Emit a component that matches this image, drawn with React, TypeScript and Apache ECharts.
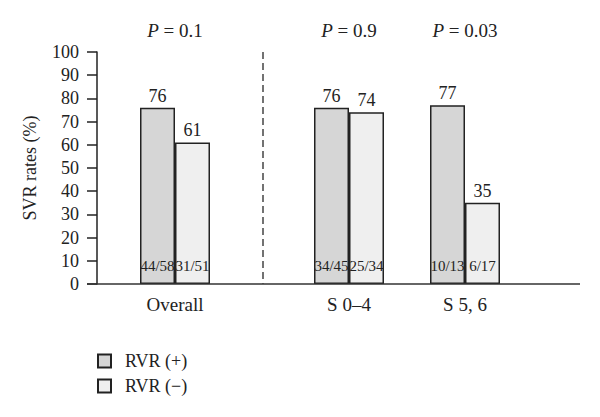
import React, { useEffect, useRef } from "react";
import * as echarts from "echarts";

const groups = ["Overall", "S 0–4", "S 5, 6"];
const rvrPos = [76, 76, 77];
const rvrNeg = [61, 74, 35];
const fracPos = ["44/58", "34/45", "10/13"];
const fracNeg = ["31/51", "25/34", "6/17"];
const pValues = ["0.1", "0.9", "0.03"];
const yTicks = [0, 10, 20, 30, 40, 50, 60, 70, 80, 90, 100];
const seriesNames = ["RVR (+)", "RVR (−)"];

// layout: slot index of each group on an evenly spaced category axis
const slotOf = [1, 4, 6];
const nSlots = 8;

const FONT = "'Liberation Serif', 'DejaVu Serif', serif";
const INK = "#222";

function buildSlots<T>(vals: T[], blank: any): any[] {
  const out: any[] = new Array(nSlots).fill(blank);
  slotOf.forEach((s, i) => (out[s] = vals[i]));
  return out;
}

export default function App() {
  const ref = useRef<HTMLDivElement>(null);
  useEffect(() => {
    document.body.style.margin = "0";
    if (!ref.current) return;
    const chart = echarts.init(ref.current, undefined, { renderer: "svg" });
    const cats = buildSlots(groups, "");
    const pCats = buildSlots(pValues, "");
    const fracPosS = buildSlots(fracPos, "");
    const fracNegS = buildSlots(fracNeg, "");
    const zeroS = buildSlots(groups.map(() => 0), "-");
    const barBorder = { borderColor: INK, borderWidth: 1.5 };
    chart.setOption({
      animation: false,
      textStyle: { fontFamily: FONT, color: INK },
      grid: { left: 88, top: 52, width: 464, height: 232 },
      xAxis: [
        {
          type: "category",
          data: cats,
          position: "bottom",
          axisLine: { show: false },
          axisTick: { show: false },
          axisLabel: {
            interval: 0,
            margin: 11,
            fontSize: 19,
            fontFamily: FONT,
            color: INK,
          },
        },
        {
          type: "category",
          data: pCats,
          position: "top",
          axisLine: { show: false },
          axisTick: { show: false },
          axisLabel: {
            interval: 0,
            margin: 12,
            fontSize: 19,
            fontFamily: FONT,
            color: INK,
            formatter: (v: string) => (v ? `{i|P} = ${v}` : ""),
            rich: {
              i: { fontStyle: "italic", fontSize: 19, fontFamily: FONT, color: INK },
            },
          },
        },
      ],
      yAxis: {
        type: "value",
        min: 0,
        max: 100,
        interval: 10,
        offset: -9,
        name: "SVR rates (%)",
        nameLocation: "middle",
        nameGap: 58,
        nameTextStyle: { fontSize: 18, fontFamily: FONT, color: INK },
        axisLine: { show: true, lineStyle: { color: INK, width: 1.5 } },
        axisTick: { show: true, length: 10, lineStyle: { color: INK, width: 1.5 } },
        splitLine: { show: false },
        axisLabel: {
          margin: 18,
          fontSize: 18,
          fontFamily: FONT,
          color: INK,
          formatter: (v: number) => (yTicks.includes(v) ? String(v) : ""),
        },
      },
      legend: {
        data: seriesNames,
        orient: "vertical",
        left: 97,
        top: 352,
        padding: 0,
        itemWidth: 13,
        itemHeight: 13,
        itemGap: 7,
        icon: "rect",
        textStyle: {
          fontSize: 18,
          fontFamily: FONT,
          color: INK,
          lineHeight: 18,
          padding: [0, 0, 0, 9],
        },
      },
      series: [
        {
          name: "frac+",
          type: "bar",
          stack: "pos",
          barWidth: 35,
          data: zeroS,
          itemStyle: { color: "transparent", borderWidth: 0 },
          label: {
            show: true,
            position: "insideBottom",
            distance: 11,
            fontSize: 15,
            fontFamily: FONT,
            color: INK,
            formatter: (p: any) => fracPosS[p.dataIndex],
          },
          z: 5,
        },
        {
          name: seriesNames[0],
          type: "bar",
          stack: "pos",
          barWidth: 35,
          data: buildSlots(rvrPos, "-"),
          itemStyle: { color: "#d6d6d6", ...barBorder },
          label: {
            show: true,
            position: "top",
            distance: 3,
            fontSize: 18,
            fontFamily: FONT,
            color: INK,
          },
        },
        {
          name: "frac-",
          type: "bar",
          stack: "neg",
          barWidth: 35,
          data: zeroS,
          itemStyle: { color: "transparent", borderWidth: 0 },
          label: {
            show: true,
            position: "insideBottom",
            distance: 11,
            fontSize: 15,
            fontFamily: FONT,
            color: INK,
            formatter: (p: any) => fracNegS[p.dataIndex],
          },
          z: 5,
        },
        {
          name: seriesNames[1],
          type: "bar",
          stack: "neg",
          barWidth: 35,
          barGap: 0,
          data: buildSlots(rvrNeg, "-"),
          itemStyle: { color: "#efefef", ...barBorder },
          label: {
            show: true,
            position: "top",
            distance: 3,
            fontSize: 18,
            fontFamily: FONT,
            color: INK,
          },
        },
      ],
      graphic: [
        {
          type: "line",
          shape: { x1: 87, y1: 284, x2: 580, y2: 284 },
          style: { stroke: "#333", lineWidth: 1.5 },
          z: 10,
        },
        {
          type: "line",
          shape: { x1: 263, y1: 52, x2: 263, y2: 284 },
          style: { stroke: "#444", lineWidth: 1.5, lineDash: [7, 4] },
          z: 10,
        },
      ],
    });
    return () => chart.dispose();
  }, []);
  return <div ref={ref} style={{ width: 600, height: 417 }} />;
}
